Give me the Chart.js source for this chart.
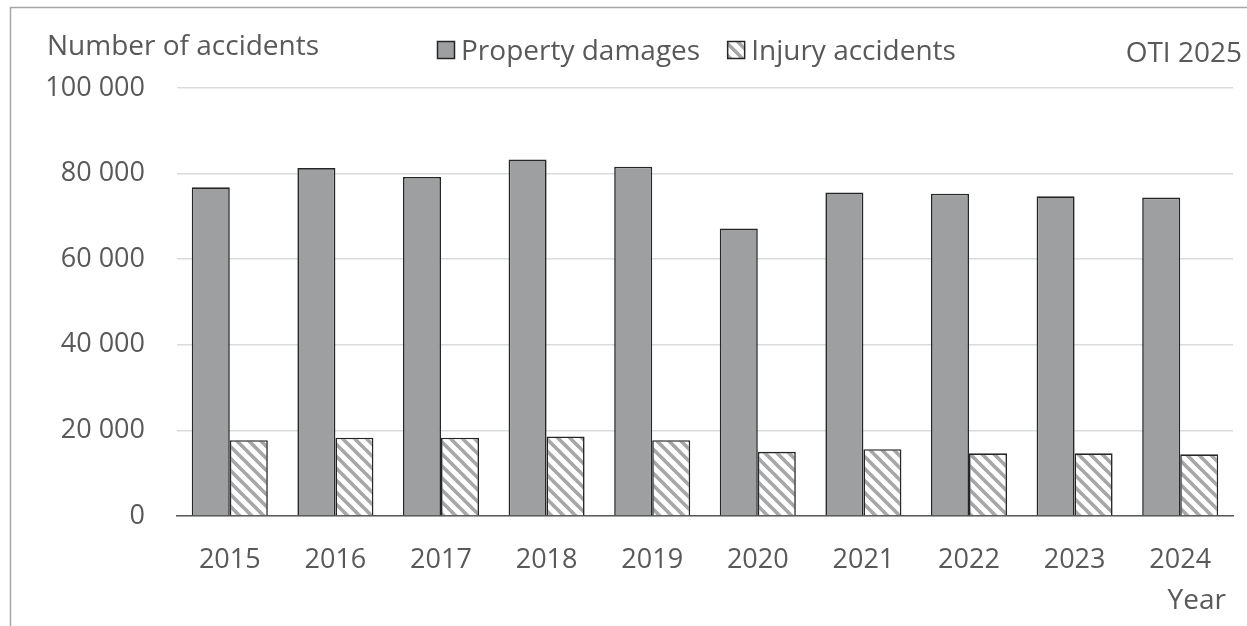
<!DOCTYPE html>
<html>
<head>
<meta charset="utf-8">
<script src="https://cdn.jsdelivr.net/npm/chart.js@4.4.1/dist/chart.umd.min.js"></script>
<style>
  body { margin: 0; background: #fff; }
  #wrap { width: 1247px; height: 626px; }
</style>
</head>
<body>
<div id="wrap"><canvas id="AccidentChart" width="1247" height="626"></canvas></div>
<script>
const years = ["2015", "2016", "2017", "2018", "2019", "2020", "2021", "2022", "2023", "2024"]
const propertyDamages = [76800, 81300, 79200, 83300, 81600, 67200, 75600, 75300, 74700, 74400]
const injuryAccidents = [17700, 18300, 18300, 18600, 17700, 15000, 15600, 14650, 14650, 14400]
const seriesNames = ["Property damages", "Injury accidents"]
const yTitle = "Number of accidents"
const xTitle = "Year"
const sourceNote = "OTI 2025"

const FONT = "'Open Sans', 'Noto Sans', sans-serif"
const TEXT = "#595959"
const GRAY = "#9e9fa1"
const EDGE = "#262626"

// wide downward diagonal hatch like the office chart
const makeHatch = () => {
	const s = 12
	const c = document.createElement("canvas")
	c.width = s
	c.height = s
	const g = c.getContext("2d")
	g.fillStyle = "#fff"
	g.fillRect(0, 0, s, s)
	g.strokeStyle = "#a6a6a6"
	g.lineWidth = 3.6
	for (const k of [-1, 0, 1]) {
		g.beginPath()
		g.moveTo(-2, -2 + k * s)
		g.lineTo(s + 2, s + 2 + k * s)
		g.stroke()
	}
	return g.createPattern(c, "repeat")
}
const hatch = makeHatch()

const spaced = (v) => String(v).replace(/\B(?=(\d{3})+(?!\d))/g, " ")

const decor = {
	id: "decor",
	beforeDraw(chart) {
		const ctx = chart.ctx
		ctx.save()
		ctx.strokeStyle = "#a6a6a6"
		ctx.lineWidth = 1.5
		ctx.beginPath()
		ctx.moveTo(10.5, 626)
		ctx.lineTo(10.5, 7.5)
		ctx.lineTo(1247, 7.5)
		ctx.stroke()
		ctx.restore()
	},
	afterDraw(chart) {
		const ctx = chart.ctx
		ctx.save()
		ctx.font = "28px " + FONT
		ctx.fillStyle = TEXT
		ctx.textBaseline = "alphabetic"
		ctx.textAlign = "left"
		ctx.fillText(yTitle, 47, 55)
		ctx.textAlign = "right"
		ctx.fillText(sourceNote, 1242, 62)
		ctx.fillText(xTitle, 1226, 609)

		// legend
		ctx.textAlign = "left"
		let x = 437
		const fills = [GRAY, hatch]
		seriesNames.forEach((name, i) => {
			ctx.fillStyle = fills[i]
			ctx.fillRect(x, 41, 18, 18)
			ctx.strokeStyle = EDGE
			ctx.lineWidth = 1.5
			ctx.strokeRect(x + 0.5, 41.5, 17, 17)
			ctx.fillStyle = TEXT
			ctx.fillText(name, x + 24, 60)
			x += 24 + ctx.measureText(name).width + 27
		})
		ctx.restore()
	},
}

new Chart(document.getElementById("AccidentChart").getContext("2d"), {
	type: "bar",
	data: {
		labels: years,
		datasets: [
			{
				label: seriesNames[0],
				data: propertyDamages,
				backgroundColor: GRAY,
				borderColor: EDGE,
				borderWidth: 1.6,
			},
			{
				label: seriesNames[1],
				data: injuryAccidents,
				backgroundColor: hatch,
				borderColor: EDGE,
				borderWidth: 1.6,
			},
		],
	},
	options: {
		responsive: false,
		animation: false,
		devicePixelRatio: 1,
		layout: { padding: { top: 88, right: 14, bottom: 0, left: 0 } },
		datasets: { bar: { categoryPercentage: 0.72, barPercentage: 1 } },
		plugins: { legend: { display: false }, tooltip: { enabled: false } },
		scales: {
			x: {
				grid: { display: false },
				border: { display: true, color: "#595959", width: 1.5 },
				ticks: { color: TEXT, font: { family: FONT, size: 27 }, padding: 20, maxRotation: 0 },
				afterFit: (s) => {
					s.height = 110
				},
			},
			y: {
				min: 0,
				max: 100000,
				border: { display: false },
				grid: { color: "#d9dcdc", lineWidth: 1.5, drawTicks: false },
				ticks: {
					stepSize: 20000,
					color: TEXT,
					font: { family: FONT, size: 27 },
					padding: 32,
					callback: (v) => spaced(v),
				},
				afterFit: (s) => {
					s.width = 177
				},
			},
		},
	},
	plugins: [decor],
})
</script>
</body>
</html>
